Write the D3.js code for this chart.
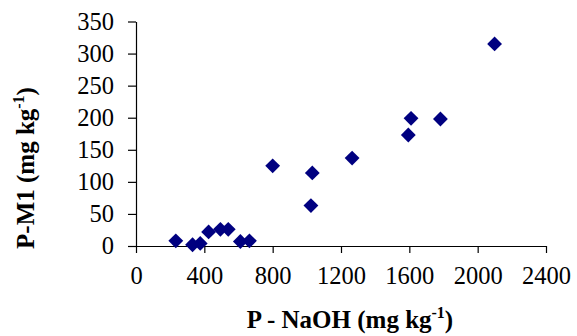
<!DOCTYPE html>
<html>
<head>
<meta charset="utf-8">
<script src="https://cdn.jsdelivr.net/npm/d3@7"></script>
<style>
  body { margin: 0; background: #fff; }
</style>
</head>
<body>
<svg id="chart" width="577" height="336"></svg>
<script>
// P - NaOH (x) vs P-M1 (y), mg kg-1
var pNaOH = [233, 331, 376, 425, 494, 540, 611, 664, 800, 1024, 1032, 1265, 1594, 1610, 1782, 2099];
var pM1   = [8,   2,   4,   22,  26,  26,  7,   8,   125, 63,  114,  137,  173,  199,  198,  315];
var xTicks = [0, 400, 800, 1200, 1600, 2000, 2400];
var yTicks = [0, 50, 100, 150, 200, 250, 300, 350];

var serif = '"Liberation Serif", "Times New Roman", serif';
var padding = {left: 136, right: 31, top: 21.5, bottom: 90};
var chartArea = {width: 577 - padding.left - padding.right, height: 336 - padding.top - padding.bottom};

var svg = d3.select('#chart');
var xScale = d3.scaleLinear().domain([0, 2400]).range([0, chartArea.width]);
var yScale = d3.scaleLinear().domain([0, 350]).range([chartArea.height, 0]);

var chartGroup = svg.append('g').attr('transform', 'translate(' + padding.left + ',' + padding.top + ')');

// axes
var xAxis = chartGroup.append('g').attr('class', 'x-axis')
    .attr('transform', 'translate(0,' + chartArea.height + ')')
    .call(d3.axisBottom(xScale).tickValues(xTicks).tickSize(7).tickSizeOuter(0).tickPadding(14).tickFormat(d3.format('d')));
var yAxis = chartGroup.append('g').attr('class', 'y-axis')
    .call(d3.axisLeft(yScale).tickValues(yTicks).tickSize(8).tickSizeOuter(0).tickPadding(14));

svg.selectAll('.x-axis path, .y-axis path, .x-axis line, .y-axis line')
    .attr('stroke', '#000').attr('stroke-width', 1.2);
svg.selectAll('.x-axis text, .y-axis text')
    .style('font-family', serif).style('font-size', '24.5px').attr('fill', '#000');

// points
var data = pNaOH.map(function(d, i) { return {x: d, y: pM1[i]}; });
var diamond = d3.symbol().type(d3.symbolSquare).size(110);
chartGroup.selectAll('path.pt').data(data).enter().append('path')
    .attr('class', 'pt')
    .attr('d', diamond)
    .attr('fill', '#000080')
    .attr('transform', function(d) {
      return 'translate(' + xScale(d.x) + ',' + yScale(d.y) + ') rotate(45)';
    });

// axis titles
var xTitle = svg.append('text')
    .attr('x', 350).attr('y', 328)
    .attr('text-anchor', 'middle')
    .style('font-family', serif).style('font-size', '25px').style('font-weight', 'bold');
xTitle.append('tspan').text('P - NaOH (mg kg');
xTitle.append('tspan').style('font-size', '16px').attr('dy', -10).text('-1');
xTitle.append('tspan').attr('dy', 10).text(')');

var yTitle = svg.append('text')
    .attr('transform', 'translate(34,168) rotate(-90)')
    .attr('text-anchor', 'middle')
    .style('font-family', serif).style('font-size', '25px').style('font-weight', 'bold');
yTitle.append('tspan').text('P-M1 (mg kg');
yTitle.append('tspan').style('font-size', '16px').attr('dy', -10).text('-1');
yTitle.append('tspan').attr('dy', 10).text(')');
</script>
</body>
</html>
